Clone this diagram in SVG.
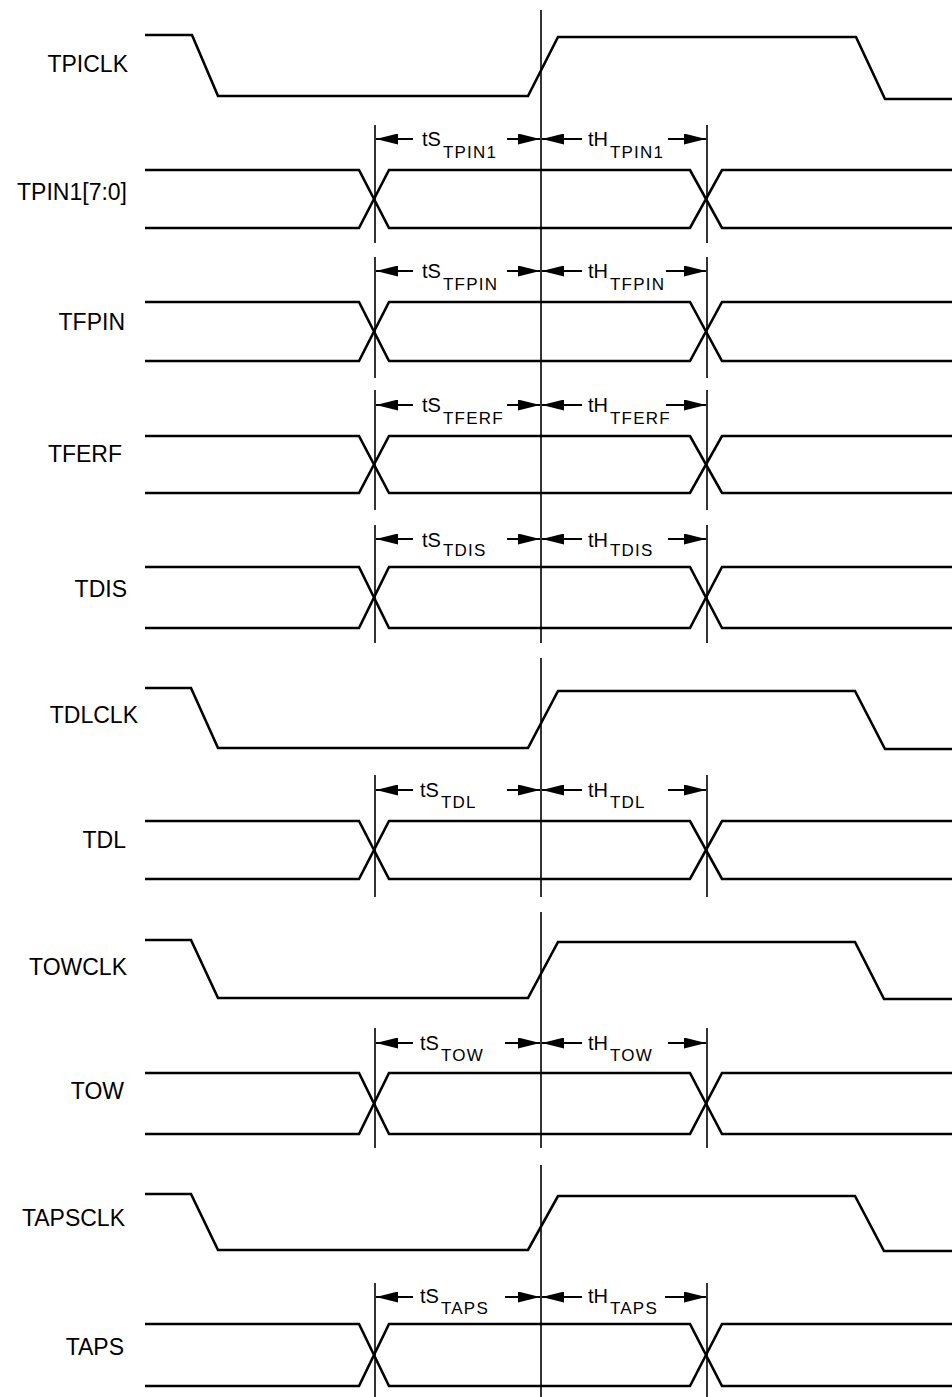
<svg xmlns="http://www.w3.org/2000/svg" width="952" height="1397" viewBox="0 0 952 1397">
<style>
.sig{fill:none;stroke:#000;stroke-width:2.6;stroke-linejoin:miter}
.ref{fill:none;stroke:#000;stroke-width:1.6}
.dim{fill:none;stroke:#000;stroke-width:2;marker-end:url(#ah)}
.lbl{font-family:"Liberation Sans",Arial,sans-serif;font-size:23px;fill:#000;text-anchor:end}
.tm{font-family:"Liberation Sans",Arial,sans-serif;font-size:20px;fill:#000}
.sub{font-family:"Liberation Sans",Arial,sans-serif;font-size:17px;letter-spacing:1.2px;fill:#000}
</style>
<defs>
<marker id="ah" viewBox="0 0 22 11" refX="22" refY="5.5" markerWidth="22" markerHeight="11" markerUnits="userSpaceOnUse" orient="auto">
<path d="M0,0 L22,5.5 L0,11 Z" fill="#000"/>
</marker>
</defs>
<rect width="952" height="1397" fill="#fff"/>

<g id="connectors">
<line class="ref" x1="541" y1="10" x2="541" y2="643"/>
<line class="ref" x1="541" y1="658" x2="541" y2="897"/>
<line class="ref" x1="541" y1="912" x2="541" y2="1148"/>
<line class="ref" x1="541" y1="1165" x2="541" y2="1397"/>
</g>

<g id="TPICLK">
<text class="lbl" x="128" y="72">TPICLK</text>
<path class="sig" d="M145,35 L192,35 L218,96 L528,96 L558,37 L856,37 L885,99 L952,99"/>
</g>

<g id="TPIN1">
<text class="lbl" x="127" y="200">TPIN1[7:0]</text>
<path class="sig" d="M145,170 L359,170 L389,228 L690,228 L722,170 L952,170 M145,228 L359,228 L389,170 L690,170 L722,228 L952,228"/>
<line class="ref" x1="375" y1="125" x2="375" y2="243"/>
<line class="ref" x1="707" y1="125" x2="707" y2="243"/>
<line class="dim" x1="413" y1="139" x2="376" y2="139"/>
<line class="dim" x1="507" y1="139" x2="540" y2="139"/>
<line class="dim" x1="582" y1="139" x2="542" y2="139"/>
<line class="dim" x1="668" y1="139" x2="706" y2="139"/>
<text class="tm" x="422" y="146">tS</text><text class="sub" x="443" y="158">TPIN1</text>
<text class="tm" x="588" y="146">tH</text><text class="sub" x="610" y="158">TPIN1</text>
</g>

<g id="TFPIN">
<text class="lbl" x="125" y="330">TFPIN</text>
<path class="sig" d="M145,302 L359,302 L389,361 L690,361 L722,302 L952,302 M145,361 L359,361 L389,302 L690,302 L722,361 L952,361"/>
<line class="ref" x1="375" y1="257" x2="375" y2="378"/>
<line class="ref" x1="707" y1="257" x2="707" y2="378"/>
<line class="dim" x1="413" y1="271" x2="376" y2="271"/>
<line class="dim" x1="507" y1="271" x2="540" y2="271"/>
<line class="dim" x1="582" y1="271" x2="542" y2="271"/>
<line class="dim" x1="666" y1="271" x2="706" y2="271"/>
<text class="tm" x="422" y="278">tS</text><text class="sub" x="443" y="290">TFPIN</text>
<text class="tm" x="588" y="278">tH</text><text class="sub" x="610" y="290">TFPIN</text>
</g>

<g id="TFERF">
<text class="lbl" x="122" y="462">TFERF</text>
<path class="sig" d="M145,436 L359,436 L389,493 L690,493 L722,436 L952,436 M145,493 L359,493 L389,436 L690,436 L722,493 L952,493"/>
<line class="ref" x1="375" y1="390" x2="375" y2="510"/>
<line class="ref" x1="707" y1="390" x2="707" y2="510"/>
<line class="dim" x1="413" y1="405" x2="376" y2="405"/>
<line class="dim" x1="507" y1="405" x2="540" y2="405"/>
<line class="dim" x1="582" y1="405" x2="542" y2="405"/>
<line class="dim" x1="666" y1="405" x2="706" y2="405"/>
<text class="tm" x="422" y="412">tS</text><text class="sub" x="443" y="424">TFERF</text>
<text class="tm" x="588" y="412">tH</text><text class="sub" x="610" y="424">TFERF</text>
</g>

<g id="TDIS">
<text class="lbl" x="127" y="597">TDIS</text>
<path class="sig" d="M145,567 L359,567 L389,628 L690,628 L722,567 L952,567 M145,628 L359,628 L389,567 L690,567 L722,628 L952,628"/>
<line class="ref" x1="375" y1="525" x2="375" y2="643"/>
<line class="ref" x1="707" y1="525" x2="707" y2="643"/>
<line class="dim" x1="413" y1="539" x2="376" y2="539"/>
<line class="dim" x1="507" y1="539" x2="540" y2="539"/>
<line class="dim" x1="582" y1="539" x2="542" y2="539"/>
<line class="dim" x1="668" y1="539" x2="706" y2="539"/>
<text class="tm" x="422" y="547">tS</text><text class="sub" x="443" y="556">TDIS</text>
<text class="tm" x="588" y="547">tH</text><text class="sub" x="610" y="556">TDIS</text>
</g>

<g id="TDLCLK">
<text class="lbl" x="138" y="723">TDLCLK</text>
<path class="sig" d="M145,688 L191,688 L218,748 L528,748 L558,691 L855,691 L885,749 L952,749"/>
</g>

<g id="TDL">
<text class="lbl" x="126" y="848">TDL</text>
<path class="sig" d="M145,821 L359,821 L389,879 L690,879 L722,821 L952,821 M145,879 L359,879 L389,821 L690,821 L722,879 L952,879"/>
<line class="ref" x1="375" y1="775" x2="375" y2="897"/>
<line class="ref" x1="707" y1="775" x2="707" y2="897"/>
<line class="dim" x1="413" y1="790" x2="376" y2="790"/>
<line class="dim" x1="507" y1="790" x2="540" y2="790"/>
<line class="dim" x1="582" y1="790" x2="542" y2="790"/>
<line class="dim" x1="668" y1="790" x2="706" y2="790"/>
<text class="tm" x="420" y="797">tS</text><text class="sub" x="441" y="808">TDL</text>
<text class="tm" x="588" y="797">tH</text><text class="sub" x="610" y="808">TDL</text>
</g>

<g id="TOWCLK">
<text class="lbl" x="127" y="975">TOWCLK</text>
<path class="sig" d="M145,940 L191,940 L218,998 L528,998 L558,942 L855,942 L884,999 L952,999"/>
</g>

<g id="TOW">
<text class="lbl" x="124" y="1099">TOW</text>
<path class="sig" d="M145,1073 L359,1073 L389,1134 L690,1134 L722,1073 L952,1073 M145,1134 L359,1134 L389,1073 L690,1073 L722,1134 L952,1134"/>
<line class="ref" x1="375" y1="1028" x2="375" y2="1148"/>
<line class="ref" x1="707" y1="1028" x2="707" y2="1148"/>
<line class="dim" x1="413" y1="1043" x2="376" y2="1043"/>
<line class="dim" x1="505" y1="1043" x2="540" y2="1043"/>
<line class="dim" x1="582" y1="1043" x2="542" y2="1043"/>
<line class="dim" x1="668" y1="1043" x2="706" y2="1043"/>
<text class="tm" x="420" y="1050">tS</text><text class="sub" x="441" y="1061">TOW</text>
<text class="tm" x="588" y="1050">tH</text><text class="sub" x="610" y="1061">TOW</text>
</g>

<g id="TAPSCLK">
<text class="lbl" x="125" y="1226">TAPSCLK</text>
<path class="sig" d="M145,1194 L191,1194 L218,1250 L528,1250 L558,1196 L855,1196 L884,1251 L952,1251"/>
</g>

<g id="TAPS">
<text class="lbl" x="124" y="1355">TAPS</text>
<path class="sig" d="M145,1324 L359,1324 L389,1386 L690,1386 L722,1324 L952,1324 M145,1386 L359,1386 L389,1324 L690,1324 L722,1386 L952,1386"/>
<line class="ref" x1="375" y1="1283" x2="375" y2="1397"/>
<line class="ref" x1="707" y1="1283" x2="707" y2="1397"/>
<line class="dim" x1="413" y1="1297" x2="376" y2="1297"/>
<line class="dim" x1="505" y1="1297" x2="540" y2="1297"/>
<line class="dim" x1="582" y1="1297" x2="542" y2="1297"/>
<line class="dim" x1="665" y1="1297" x2="706" y2="1297"/>
<text class="tm" x="420" y="1303">tS</text><text class="sub" x="441" y="1314">TAPS</text>
<text class="tm" x="588" y="1303">tH</text><text class="sub" x="610" y="1314">TAPS</text>
</g>
</svg>
